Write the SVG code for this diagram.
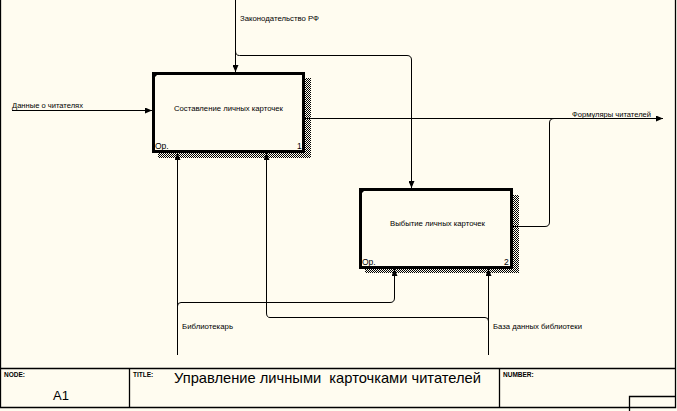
<svg xmlns="http://www.w3.org/2000/svg" width="677" height="411" viewBox="0 0 677 411">
<defs>
<pattern id="hatch" width="2" height="2" patternUnits="userSpaceOnUse">
<rect x="0" y="0" width="1" height="1" fill="#000"/>
<rect x="1" y="1" width="1" height="1" fill="#000"/>
</pattern>
<marker id="arr" markerWidth="7" markerHeight="6" refX="7" refY="3" orient="auto" markerUnits="userSpaceOnUse">
<path d="M0,0 L7,3 L0,6 Z" fill="#000"/>
</marker>
</defs>
<style>
.bg{fill:#FFFCF0}
.frame{fill:none;stroke:#000;stroke-width:1.3}
.box{fill:#FFFCF0;stroke:#000;stroke-width:3}
.shadow{fill:url(#hatch)}
.con{fill:none;stroke:#000;stroke-width:1}
.lbl{font-family:"Liberation Sans",Arial,sans-serif;font-size:7.5px;fill:#000}
.num{font-family:"Liberation Sans",Arial,sans-serif;font-size:8.5px;fill:#000}
.hdr{font-family:"Liberation Sans",Arial,sans-serif;font-size:6.5px;font-weight:bold;fill:#000}
.big{font-family:"Liberation Sans",Arial,sans-serif;fill:#000}
</style>
<rect class="bg" x="0" y="0" width="677" height="411"/>

<g id="frame">
<path class="frame" d="M0.5,0 V407.5 H675.5 V0"/>
<line class="frame" x1="0.5" y1="368.5" x2="675.5" y2="368.5"/>
<line class="frame" x1="129.5" y1="368.5" x2="129.5" y2="407.5"/>
<line class="frame" x1="499.5" y1="368.5" x2="499.5" y2="407.5"/>
<path class="frame" d="M629.5,411 V396.5 H675.5"/>
<text class="hdr" x="4" y="377">NODE:</text>
<text class="big" x="53" y="400" font-size="13">A1</text>
<text class="hdr" x="133" y="377">TITLE:</text>
<text class="big" x="174" y="383" font-size="14.5" style="white-space:pre" textLength="307" lengthAdjust="spacingAndGlyphs">Управление личными  карточками читателей</text>
<text class="hdr" x="503" y="377">NUMBER:</text>
</g>

<g id="connectors">
<path class="con" d="M235.5,0 V72" marker-end="url(#arr)"/>
<path class="con" d="M235.5,51 Q235.5,55.5 239.5,55.5 H407 Q411.5,55.5 411.5,60 V188" marker-end="url(#arr)"/>
<path class="con" d="M12,110.5 H152" marker-end="url(#arr)"/>
<path class="con" d="M305,118.5 H663" marker-end="url(#arr)"/>
<path class="con" d="M513,226.5 H545 Q549.5,226.5 549.5,222 V123 Q549.5,118.5 554,118.5"/>
<path class="con" d="M177.5,355 V153" marker-end="url(#arr)"/>
<path class="con" d="M177.5,306 Q177.5,302.5 181,302.5 H390 Q394.5,302.5 394.5,298 V269" marker-end="url(#arr)"/>
<path class="con" d="M488.5,355 V269" marker-end="url(#arr)"/>
<path class="con" d="M488.5,321 Q488.5,317.5 485,317.5 H270 Q266.5,317.5 266.5,313 V153" marker-end="url(#arr)"/>
<text class="lbl" x="240" y="21" textLength="79" lengthAdjust="spacingAndGlyphs">Законодательство РФ</text>
<text class="lbl" x="12" y="107.5" textLength="71" lengthAdjust="spacingAndGlyphs">Данные о читателях</text>
<text class="lbl" x="572" y="116.5" textLength="79" lengthAdjust="spacingAndGlyphs">Формуляры читателей</text>
<text class="lbl" x="182" y="329" textLength="51" lengthAdjust="spacingAndGlyphs">Библиотекарь</text>
<text class="lbl" x="493" y="329" textLength="89" lengthAdjust="spacingAndGlyphs">База данных библиотеки</text>
</g>

<g id="node1">
<rect class="shadow" x="305" y="78" width="6" height="80"/>
<rect class="shadow" x="158" y="153" width="153" height="5"/>
<rect class="box" x="153.5" y="73.5" width="150" height="78"/>
<polygon points="152,72 160,72 152,80" fill="#000"/>
<text class="lbl" x="174" y="111" textLength="109" lengthAdjust="spacingAndGlyphs">Составление личных карточек</text>
<text class="num" x="155" y="148.5">Ор.</text>
<text class="num" x="297" y="148.5">1</text>
</g>

<g id="node2">
<rect class="shadow" x="513" y="195" width="6" height="78"/>
<rect class="shadow" x="365" y="269" width="154" height="4"/>
<rect class="box" x="360.5" y="189.5" width="151" height="78"/>
<polygon points="359,188 367,188 359,196" fill="#000"/>
<text class="lbl" x="390" y="226" textLength="95" lengthAdjust="spacingAndGlyphs">Выбытие личных карточек</text>
<text class="num" x="362" y="264.5">Ор.</text>
<text class="num" x="504" y="264.5">2</text>
</g>
</svg>
